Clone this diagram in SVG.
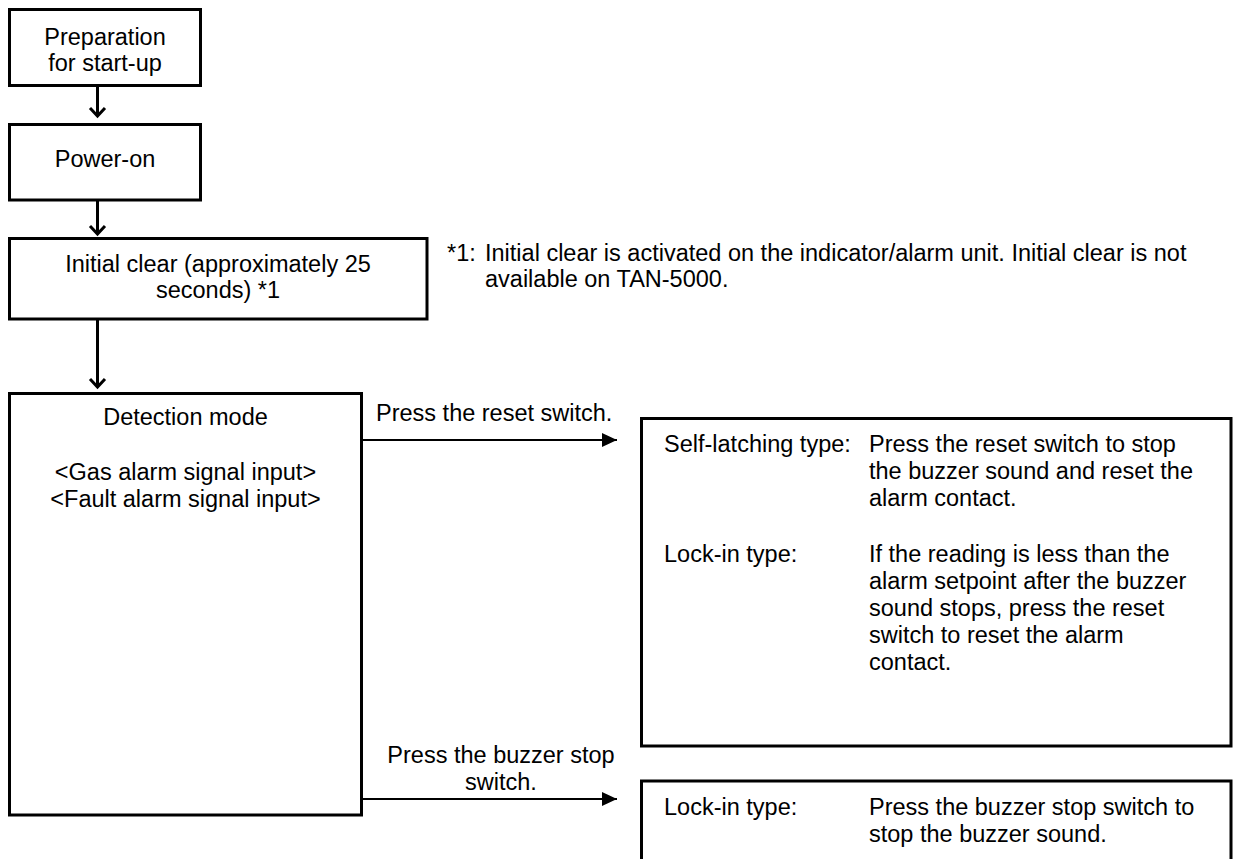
<svg xmlns="http://www.w3.org/2000/svg" width="1233" height="859" viewBox="0 0 1233 859">
<style>
  .box { fill: #ffffff; stroke: #000000; stroke-width: 3; }
  .t { font-family: "Liberation Sans", Arial, sans-serif; font-size: 23.5px; fill: #000000; }
  .c { text-anchor: middle; }
  .vline { stroke: #000000; stroke-width: 3; fill: none; }
  .chev { stroke: #000000; stroke-width: 3; fill: none; stroke-linejoin: miter; }
  .hline { stroke: #000000; stroke-width: 2; fill: none; }
</style>
<defs>
  <marker id="tri" markerWidth="16" markerHeight="14" refX="15" refY="7" orient="auto" markerUnits="userSpaceOnUse">
    <path d="M0,0 L15,7 L0,14 Z" fill="#000000"/>
  </marker>
</defs>

<g id="connectors">
  <line class="vline" x1="97.5" y1="86" x2="97.5" y2="115"/>
  <polyline class="chev" points="90,108 97.5,116 105,108"/>
  <line class="vline" x1="97.5" y1="200" x2="97.5" y2="233"/>
  <polyline class="chev" points="90,226 97.5,234 105,226"/>
  <line class="vline" x1="97.5" y1="320" x2="97.5" y2="386"/>
  <polyline class="chev" points="90,379 97.5,387 105,379"/>
  <line class="hline" x1="362" y1="440" x2="617" y2="440" marker-end="url(#tri)"/>
  <line class="hline" x1="362" y1="799" x2="617" y2="799" marker-end="url(#tri)"/>
  <text class="t" x="376" y="421">Press the reset switch.</text>
  <text class="t c" x="501" y="763">Press the buzzer stop</text>
  <text class="t c" x="501" y="790">switch.</text>
</g>

<g id="prep">
  <rect class="box" x="9.5" y="9.5" width="191" height="76"/>
  <text class="t c" x="105" y="45">Preparation</text>
  <text class="t c" x="105" y="71">for start-up</text>
</g>

<g id="power">
  <rect class="box" x="9.5" y="124.5" width="191" height="75.5"/>
  <text class="t c" x="105" y="167">Power-on</text>
</g>

<g id="initial">
  <rect class="box" x="9.5" y="238.5" width="417.5" height="80.5"/>
  <text class="t c" x="218" y="272">Initial clear (approximately 25</text>
  <text class="t c" x="218" y="298">seconds) *1</text>
</g>

<g id="footnote">
  <text class="t" x="447" y="261">*1:</text>
  <text class="t" x="485" y="261">Initial clear is activated on the indicator/alarm unit. Initial clear is not</text>
  <text class="t" x="485" y="287">available on TAN-5000.</text>
</g>

<g id="detection">
  <rect class="box" x="9.5" y="393.5" width="352" height="421.5"/>
  <text class="t c" x="185.5" y="425">Detection mode</text>
  <text class="t c" x="185.5" y="480">&lt;Gas alarm signal input&gt;</text>
  <text class="t c" x="185.5" y="507">&lt;Fault alarm signal input&gt;</text>
</g>

<g id="reset-box">
  <rect class="box" x="641.5" y="418.5" width="589.5" height="327.5"/>
  <text class="t" x="664" y="452">Self-latching type:</text>
  <text class="t" x="869" y="452">Press the reset switch to stop</text>
  <text class="t" x="869" y="479">the buzzer sound and reset the</text>
  <text class="t" x="869" y="506">alarm contact.</text>
  <text class="t" x="664" y="562">Lock-in type:</text>
  <text class="t" x="869" y="562">If the reading is less than the</text>
  <text class="t" x="869" y="589">alarm setpoint after the buzzer</text>
  <text class="t" x="869" y="616">sound stops, press the reset</text>
  <text class="t" x="869" y="643">switch to reset the alarm</text>
  <text class="t" x="869" y="670">contact.</text>
</g>

<g id="buzzer-box">
  <rect class="box" x="641.5" y="781" width="589.5" height="100"/>
  <text class="t" x="664" y="815">Lock-in type:</text>
  <text class="t" x="869" y="815">Press the buzzer stop switch to</text>
  <text class="t" x="869" y="842">stop the buzzer sound.</text>
</g>
</svg>
